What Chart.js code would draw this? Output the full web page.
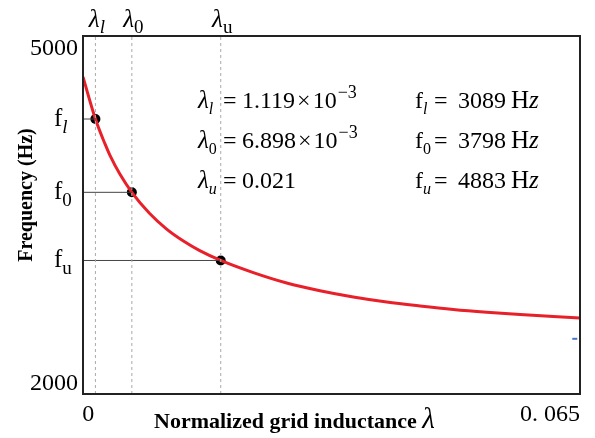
<!DOCTYPE html>
<html>
<head>
<meta charset="UTF-8">
<title>Frequency vs normalized grid inductance</title>
<script src="https://cdn.jsdelivr.net/npm/chart.js"></script>
<style>
  body { margin: 0; background: #fff; }
  #wrap { width: 595px; height: 438px; }
</style>
</head>
<body>
<div id="wrap"><canvas id="c" width="595" height="438"></canvas></div>
<script>
const X_MIN = -0.00085, X_MAX = 0.078;
const Y_MIN = 1909, Y_MAX = 5113;
const SERIF = '"Liberation Serif", "Times New Roman", serif';

// resonance frequency along the curve
const lambda = [-0.00085, 0.001119, 0.00264, 0.00343, 0.00502, 0.006898, 0.00973, 0.01237, 0.01502, 0.01767, 0.021,
                0.02617, 0.03147, 0.03675, 0.04203, 0.04733, 0.05262, 0.0579, 0.0632, 0.06848, 0.07376, 0.078];
const freq   = [4746, 4370, 4147, 4045, 3875, 3714, 3524, 3387, 3280, 3192, 3104,
                2995, 2902, 2833, 2777, 2732, 2697, 2666, 2641, 2620, 2603, 2589];

// marked points: lambda_l, lambda_0, lambda_u
const markLambda = [0.001119, 0.006898, 0.021];
const markFreq   = [4370, 3714, 3104];
const markSub    = ['l', '0', 'u'];

const yTicks = [2000, 5000];
const xTickValues = [0, X_MAX];
const xTickLabels = ['0', '0. 065'];

// values listed in the text block
const lambdaMant = ['1.119', '6.898', '0.021'];
const lambdaExp  = ['-3', '-3', null];
const freqText   = ['3089', '3798', '4883'];

const stray = [{ x: 0.07717, y: 2403 }];

function font(size, style) {
  return (style || '') + ' ' + size + 'px ' + SERIF;
}

// draw a row of text pieces; x fixes a piece's start, gap adds space after it
function drawRuns(ctx, x, y, runs) {
  runs.forEach(r => {
    if (r.x !== undefined) x = r.x;
    ctx.font = font(r.size, r.style);
    ctx.fillText(r.t, x, y + (r.dy || 0));
    x += ctx.measureText(r.t).width + (r.gap || 0);
  });
  return x;
}
function runsWidth(ctx, runs) {
  let w = 0;
  runs.forEach(r => { ctx.font = font(r.size, r.style); w += ctx.measureText(r.t).width + (r.gap || 0); });
  return w;
}
const subStyle = s => (s === '0' ? '' : 'italic');

const textPlugin = {
  id: 'textPlugin',
  afterDraw(chart) {
    const ctx = chart.ctx;
    const a = chart.chartArea;
    const xs = chart.scales.x, ys = chart.scales.y;
    ctx.save();
    ctx.fillStyle = '#000';
    ctx.textBaseline = 'alphabetic';
    ctx.textAlign = 'left';

    // frame
    ctx.strokeStyle = '#222';
    ctx.lineWidth = 2;
    ctx.strokeRect(a.left, a.top, a.right - a.left, a.bottom - a.top);

    // lambda labels above the plot
    markLambda.forEach((v, i) => {
      const runs = [
        { t: '\u03bb', size: 25, style: 'italic' },
        { t: markSub[i], size: 19, style: i === 0 ? 'italic' : '', dy: 6 }
      ];
      const w = runsWidth(ctx, runs);
      drawRuns(ctx, xs.getPixelForValue(v) + 1.5 - w / 2, 27, runs);
    });

    // f labels left of the axis
    markFreq.forEach((v, i) => {
      drawRuns(ctx, 54, ys.getPixelForValue(v) + 7, [
        { t: 'f', size: 25 },
        { t: markSub[i], size: 19, style: i === 0 ? 'italic' : '', dy: 7 }
      ]);
    });

    // parameter block
    const rows = [108, 148, 188];
    rows.forEach((y, i) => {
      const runs = [
        { t: '\u03bb', size: 25, style: 'italic', x: 198 },
        { t: markSub[i], size: 16, style: subStyle(markSub[i]), dy: 6 },
        { t: '=', size: 24, x: 223 },
        { t: lambdaMant[i], size: 24, x: 242, gap: 2 }
      ];
      if (lambdaExp[i]) {
        runs.push({ t: '\u00d7', size: 24, gap: 2 });
        runs.push({ t: '10', size: 24, gap: 1 });
        runs.push({ t: '\u2212' + lambdaExp[i].slice(1), size: 18, dy: -10 });
      }
      drawRuns(ctx, 198, y, runs);
      drawRuns(ctx, 415, y, [
        { t: 'f', size: 24, x: 415 },
        { t: markSub[i], size: 16, style: subStyle(markSub[i]), dy: 6 },
        { t: '=', size: 24, x: 434 },
        { t: freqText[i], size: 24, x: 458 },
        { t: 'H', size: 25, x: 511 },
        { t: 'z', size: 25, style: 'italic' }
      ]);
    });

    // x tick labels
    ctx.font = font(24);
    ctx.textAlign = 'center';
    ctx.fillText(xTickLabels[0], xs.getPixelForValue(xTickValues[0]), 421);
    ctx.textAlign = 'right';
    ctx.fillText(xTickLabels[1], xs.getPixelForValue(xTickValues[1]), 421);

    // x title
    ctx.textAlign = 'left';
    drawRuns(ctx, 154, 428, [
      { t: 'Normalized grid inductance ', size: 22, style: 'bold' },
      { t: '\u03bb', size: 29, style: 'italic' }
    ]);

    // y title
    ctx.translate(27, 195);
    ctx.rotate(-Math.PI / 2);
    ctx.textAlign = 'center';
    ctx.textBaseline = 'middle';
    ctx.font = font(20, 'bold');
    ctx.fillText('Frequency (Hz)', 0, 0);
    ctx.restore();
  }
};

const datasets = [];

// dashed guides at each lambda
markLambda.forEach(v => {
  datasets.push({
    data: [{ x: v, y: Y_MIN }, { x: v, y: Y_MAX }],
    showLine: true, borderColor: '#aaa', borderWidth: 1, borderDash: [3, 3], pointRadius: 0
  });
});
// solid guides from the axis to each point
markFreq.forEach((f, i) => {
  datasets.push({
    data: [{ x: X_MIN, y: f }, { x: markLambda[i], y: f }],
    showLine: true, borderColor: '#444', borderWidth: 1, pointRadius: 0
  });
});
datasets.push({
  data: lambda.map((v, i) => ({ x: v, y: freq[i] })),
  showLine: true, borderColor: '#e8202a', borderWidth: 3, pointRadius: 0,
  cubicInterpolationMode: 'monotone'
});
datasets.push({
  data: markLambda.map((v, i) => ({ x: v, y: markFreq[i] })),
  showLine: false, pointRadius: 5, backgroundColor: '#000', borderColor: '#000', borderWidth: 0
});
datasets.push({
  data: stray,
  showLine: false, pointStyle: 'line', pointRadius: 2.5, borderColor: '#4a76c9', borderWidth: 2
});

new Chart(document.getElementById('c'), {
  type: 'scatter',
  data: { datasets },
  options: {
    responsive: false,
    animation: false,
    events: [],
    layout: { padding: { top: 36, right: 15, bottom: 44, left: 0 } },
    plugins: { legend: { display: false }, tooltip: { enabled: false } },
    scales: {
      x: { type: 'linear', min: X_MIN, max: X_MAX, display: false },
      y: {
        type: 'linear', min: Y_MIN, max: Y_MAX,
        afterBuildTicks: s => { s.ticks = yTicks.map(v => ({ value: v })); },
        afterFit: s => { s.width = 83; },
        grid: { display: false, drawTicks: false },
        border: { display: false },
        ticks: { color: '#000', padding: 5, font: { family: SERIF, size: 24 }, callback: v => String(v) }
      }
    }
  },
  plugins: [textPlugin]
});
</script>
</body>
</html>
